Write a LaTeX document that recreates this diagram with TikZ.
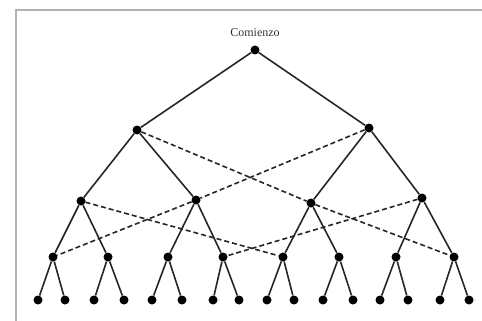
\documentclass[tikz,border=0pt]{standalone}
\usepackage{fontspec}
\setmainfont{Liberation Serif}
\begin{document}
\begin{tikzpicture}[x=1pt,y=-1pt,
  dot/.style={circle,fill=black,inner sep=0pt,minimum size=9pt},
  tree/.style={line width=1.6pt,black!85},
  cross/.style={line width=1.6pt,black!85,dash pattern=on 5pt off 3pt},
  frame/.style={line width=1.8pt,black!30}]
\useasboundingbox (0,0) rectangle (482,321);
\coordinate (ftl) at (16,10);
\coordinate (ftr) at (482,10);
\coordinate (fbl) at (16,321);
\draw[frame] (ftr) -- (ftl) -- (fbl);
\node[dot] (r) at (255,50) {};
\node[font=\fontsize{12}{14}\selectfont,black!80] (lab) at (255,33) {Comienzo};
\node[dot] (a) at (137,130) {};
\node[dot] (b) at (369,128) {};
\node[dot] (aa) at (81,201) {};
\node[dot] (ab) at (196,200) {};
\node[dot] (ba) at (311,203) {};
\node[dot] (bb) at (422,198) {};
\foreach \n/\x in {1/53,2/108,3/168,4/223,5/283,6/339,7/396,8/454}
  \node[dot] (c\n) at (\x,257) {};
\foreach \n/\x in {1/38,2/65,3/94,4/124,5/152,6/182,7/213,8/239,9/267,10/294,11/323,12/353,13/380,14/408,15/440,16/469}
  \node[dot] (d\n) at (\x,300) {};
\draw[tree] (a) -- (r) -- (b);
\draw[tree] (aa) -- (a) -- (ab);
\draw[tree] (ba) -- (b) -- (bb);
\draw[tree] (c1) -- (aa) -- (c2);
\draw[tree] (c3) -- (ab) -- (c4);
\draw[tree] (c5) -- (ba) -- (c6);
\draw[tree] (c7) -- (bb) -- (c8);
\foreach \i in {1,...,8}{
  \pgfmathtruncatemacro{\l}{2*\i-1}
  \pgfmathtruncatemacro{\rr}{2*\i}
  \draw[tree] (d\l) -- (c\i) -- (d\rr);
}
\draw[cross] (a) -- (ba);
\draw[cross] (b) -- (ab);
\draw[cross] (aa) -- (c5);
\draw[cross] (ab) -- (c1);
\draw[cross] (ba) -- (c8);
\draw[cross] (bb) -- (c4);
\end{tikzpicture}
\end{document}
